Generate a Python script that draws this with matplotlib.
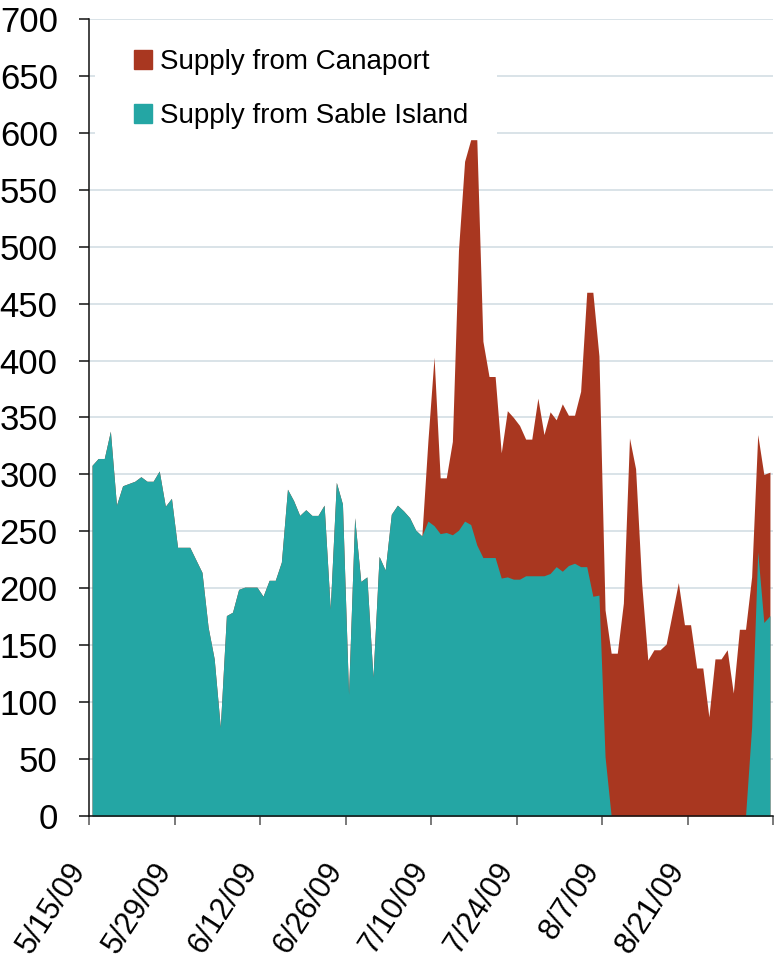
import matplotlib
matplotlib.use('Agg')
import matplotlib.pyplot as plt
import matplotlib.dates as mdates
import matplotlib.transforms as mtransforms
from matplotlib.patches import Patch, Rectangle
import numpy as np
import pandas as pd

plt.rcParams['font.family'] = ['Liberation Sans', 'DejaVu Sans']

# daily supply, starting 5/15/09
start_date = '2009-05-15'
sable = [308, 314, 314, 338, 273, 290, 292, 294, 298, 294,
         294, 303, 272, 279, 236, 236, 236, 225, 214, 166,
         138, 78, 176, 179, 199, 201, 201, 201, 193, 207,
         207, 223, 287, 277, 264, 269, 264, 264, 273, 182,
         293, 274, 107, 262, 206, 210, 122, 228, 216, 265,
         273, 268, 262, 251, 246, 259, 255, 248, 249, 247,
         251, 259, 256, 238, 227, 227, 227, 209, 210, 208,
         208, 211, 211, 211, 211, 213, 219, 215, 220, 222,
         219, 219, 193, 194, 52, 0, 0, 0, 0, 0,
         0, 0, 0, 0, 0, 0, 0, 0, 0, 0,
         0, 0, 0, 0, 0, 0, 0, 0, 78, 232,
         170, 176]
canaport = [0] * 54 + [
    0, 71, 148, 49, 48, 82,
    246, 316, 338, 356, 190, 159, 159, 110, 146, 142,
    135, 120, 120, 156, 124, 142, 129, 147, 132, 130,
    154, 241, 267, 210, 129, 143, 143, 187, 332, 305,
    204, 137, 146, 146, 151, 178, 205, 168, 168, 130,
    130, 87, 138, 138, 146, 108, 164, 164, 132, 103,
    130, 126]

tick_dates = ['2009-05-15', '2009-05-29', '2009-06-12', '2009-06-26', '2009-07-10',
              '2009-07-24', '2009-08-07', '2009-08-21', '2009-09-04']
tick_labels = ['5/15/09', '5/29/09', '6/12/09', '6/26/09', '7/10/09',
               '7/24/09', '8/7/09', '8/21/09', '']
legend_labels = ['Supply from Canaport', 'Supply from Sable Island']

RED = '#A93720'
TEAL = '#24A6A4'

W, H = 774, 969
fig = plt.figure(figsize=(W / 100, H / 100), dpi=100)
ax = fig.add_axes([89 / W, 153 / H, 684 / W, 797 / H])

# points sit in the middle of each day slot
days = pd.date_range(start_date, periods=len(sable), freq='D') + pd.Timedelta(hours=12)
x = mdates.date2num(days.to_pydatetime())
sable_arr = np.array(sable, dtype=float)
total = sable_arr + np.array(canaport, dtype=float)

ax.fill_between(x, 0, total, color=RED, lw=0, zorder=1)
ax.fill_between(x, 0, sable_arr, color=TEAL, lw=0, zorder=2)

ticks = mdates.date2num(pd.to_datetime(tick_dates).to_pydatetime())
ax.set_xlim(ticks[0], ticks[-1])
ax.set_ylim(0, 700)
ax.set_yticks(np.arange(0, 701, 50))
ax.set_xticks(ticks)
ax.set_xticklabels(tick_labels)

ax.set_axisbelow(True)
ax.yaxis.grid(True, color='#d9e3e8', lw=1.4)
ax.xaxis.grid(False)
for s in ['top', 'right']:
    ax.spines[s].set_visible(False)
for s in ['left', 'bottom']:
    ax.spines[s].set_linewidth(1.1)
    ax.spines[s].set_color('#111111')

ax.tick_params(axis='y', length=7.5, width=1.1, pad=15, labelsize=25, color='#111111')
ax.tick_params(axis='x', length=6.5, width=1.1, pad=29, labelsize=22, color='#555555')
shift = mtransforms.ScaledTranslation(-9 / 100, 0, fig.dpi_scale_trans)
for lab in ax.get_xticklabels():
    lab.set_rotation(57)
    lab.set_ha('right')
    lab.set_va('center')
    lab.set_rotation_mode('anchor')
    lab.set_transform(lab.get_transform() + shift)

# white box behind legend hides the gridlines there
ax.add_patch(Rectangle((95 / W, 1 - 140 / H), 402 / W, 115 / H, transform=fig.transFigure,
                       facecolor='white', edgecolor='none', zorder=0.8))

handles = [Patch(color=RED, label=legend_labels[0]), Patch(color=TEAL, label=legend_labels[1])]
fig.legend(handles=handles, loc='upper left', bbox_to_anchor=(134 / W, 1 - 49 / H),
           frameon=False, fontsize=20, handlelength=0.65, handleheight=0.65,
           handletextpad=0.3, labelspacing=1.02, borderpad=0, borderaxespad=0)

fig.savefig('out.png', dpi=100)
